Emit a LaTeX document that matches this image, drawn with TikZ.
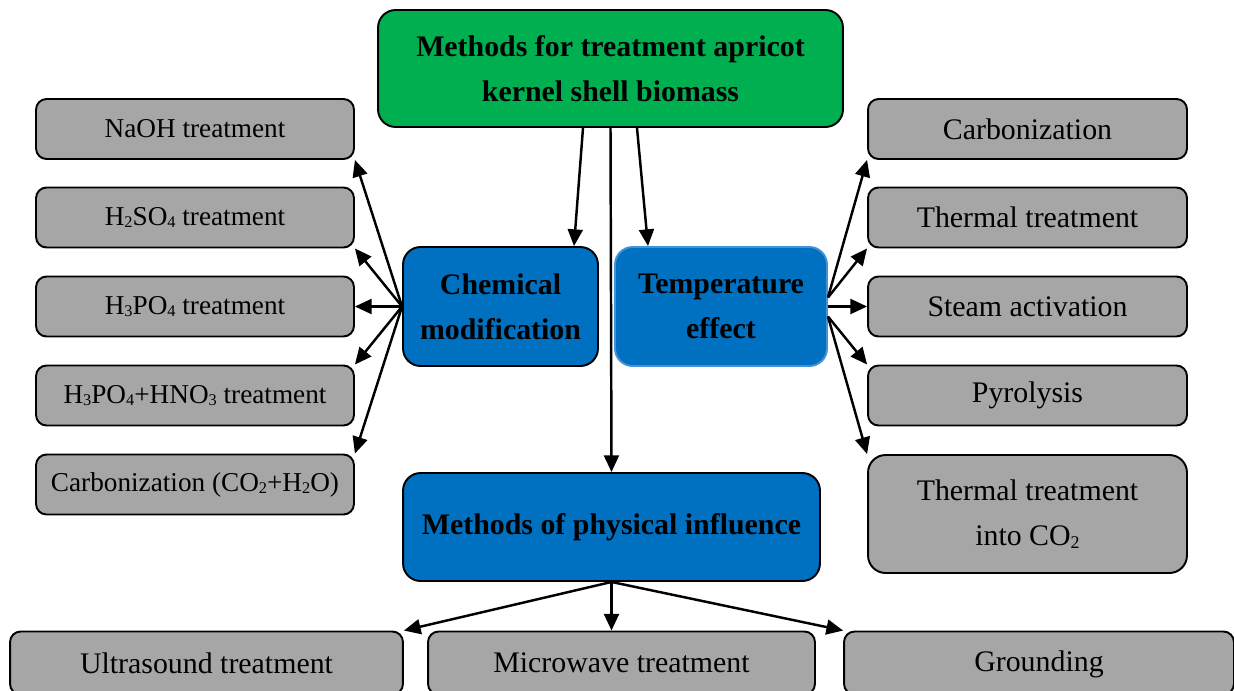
\documentclass[tikz,border=0pt]{standalone}
\usepackage{fontspec}
\setmainfont{Liberation Serif}
\usetikzlibrary{arrows.meta}
\definecolor{boxgreen}{RGB}{0,176,80}
\definecolor{boxblue}{RGB}{0,112,192}
\definecolor{boxgray}{RGB}{166,166,166}
\definecolor{tempedge}{RGB}{70,145,215}
\newcommand\chsub[1]{\raisebox{-0.2ex}{\scalebox{0.6}{#1}}}
\begin{document}
\begin{tikzpicture}[x=0.02cm,y=-0.02cm,
  base/.style={rectangle, draw=black, line width=1.1pt, align=center, inner sep=0pt, text=black},
  graybox/.style={base, fill=boxgray, rounded corners=6pt, minimum height=1.2cm},
  leftbox/.style={graybox, minimum width=6.36cm, font=\fontsize{15.5}{18}\selectfont},
  rightbox/.style={graybox, minimum width=6.38cm, font=\fontsize{17}{25.5}\selectfont},
  botbox/.style={graybox, minimum height=1.26cm, font=\fontsize{17}{25.5}\selectfont},
  bluebox/.style={base, fill=boxblue, rounded corners=10pt, font=\bfseries\fontsize{17}{25.5}\selectfont},
  arr/.style={-{Triangle[length=9.5pt,width=8.5pt]}, line width=1.4pt}
]
\useasboundingbox (0,0) rectangle (1234,690);
\clip (0,0) rectangle (1234,690);

% top
\node[base, fill=boxgreen, rounded corners=10pt, minimum width=9.3cm, minimum height=2.34cm,
  font=\bfseries\fontsize{17}{25.5}\selectfont] (top) at (610.5,68.5)
  {Methods for treatment apricot\\kernel shell biomass};

% blue boxes
\node[bluebox, minimum width=3.9cm, minimum height=2.38cm] (chem) at (500.5,306.5)
  {Chemical\\modification};
\node[bluebox, draw=tempedge, minimum width=4.24cm, minimum height=2.38cm] (temp) at (721,306.5)
  {Temperature\\effect};
\node[bluebox, minimum width=8.34cm, minimum height=2.16cm] (phys) at (611.5,527)
  {Methods of physical influence};

% left boxes
\node[leftbox] (naoh) at (195,129) {NaOH treatment};
\node[leftbox] (hso) at (195,217.5) {H\chsub{2}SO\chsub{4} treatment};
\node[leftbox] (hpo) at (195,306.5) {H\chsub{3}PO\chsub{4} treatment};
\node[leftbox] (hpn) at (195,395.5) {H\chsub{3}PO\chsub{4}+HNO\chsub{3} treatment};
\node[leftbox] (lcarb) at (195,484.5) {Carbonization (CO\chsub{2}+H\chsub{2}O)};

% right boxes
\node[rightbox] (rcarb) at (1027.5,129) {Carbonization};
\node[rightbox] (therm) at (1027.5,217.5) {Thermal treatment};
\node[rightbox] (steam) at (1027.5,306.5) {Steam activation};
\node[rightbox] (pyro) at (1027.5,395.5) {Pyrolysis};
\node[rightbox, minimum height=2.36cm, rounded corners=10pt] (tco) at (1027.5,514) {Thermal treatment\\into CO\chsub{2}};

% bottom boxes
\node[botbox, minimum width=7.86cm] (ultra) at (206.5,663) {Ultrasound treatment};
\node[botbox, minimum width=7.74cm] (micro) at (621.5,663) {Microwave treatment};
\node[botbox, minimum width=7.8cm] (ground) at (1039,663) {\strut Grounding};

% arrows from top
\draw[arr] ([xshift=-0.55cm]top.south) -- ([xshift=1.47cm]chem.north);
\draw[arr] (top.south) -- (phys.north);
\draw[arr] ([xshift=0.53cm]top.south) -- ([xshift=-1.46cm]temp.north);

% chemical fan
\draw[arr] (chem.west) -- (naoh.south east);
\draw[arr] (chem.west) -- (hso.south east);
\draw[arr] (chem.west) -- (hpo.east);
\draw[arr] (chem.west) -- (hpn.north east);
\draw[arr] (chem.west) -- (lcarb.north east);

% temperature fan
\draw[arr] ([yshift=0.18cm]temp.east) -- (rcarb.south west);
\draw[arr] ([yshift=0.18cm]temp.east) -- (therm.south west);
\draw[arr] (temp.east) -- (steam.west);
\draw[arr] ([yshift=-0.2cm]temp.east) -- (pyro.north west);
\draw[arr] ([yshift=-0.2cm]temp.east) -- (tco.north west);

% physical fan
\draw[arr] (phys.south) -- (ultra.north east);
\draw[arr] (phys.south) -- (phys.south |- micro.north);
\draw[arr] (phys.south) -- (ground.north west);
\end{tikzpicture}
\end{document}
